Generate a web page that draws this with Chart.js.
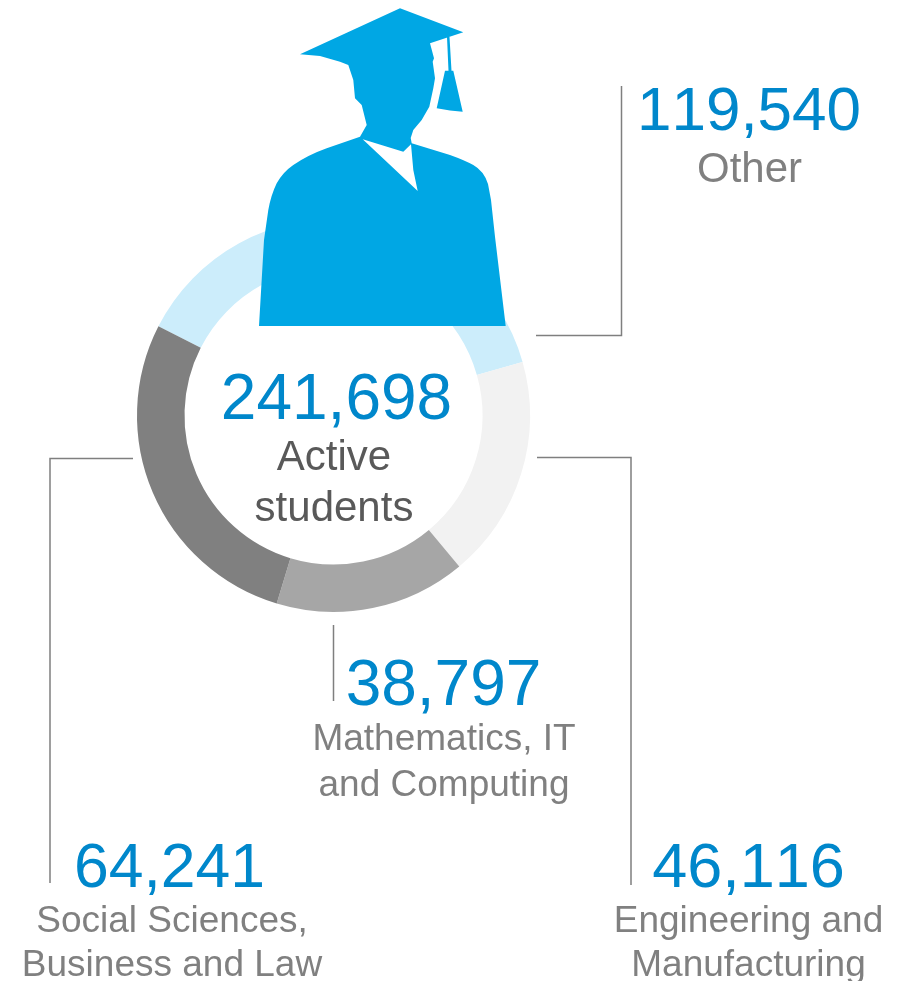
<!DOCTYPE html>
<html>
<head>
<meta charset="utf-8">
<title>Active students</title>
<script src="https://cdn.jsdelivr.net/npm/chart.js"></script>
<style>
  html, body { margin: 0; padding: 0; background: #fff; }
  canvas { display: block; }
</style>
</head>
<body>
<canvas id="studentsChart" width="910" height="981"></canvas>
<script>
// Data
const categories = ['Other', 'Engineering and Manufacturing', 'Mathematics, IT and Computing', 'Social Sciences, Business and Law'];
const counts = ['119,540', '46,116', '38,797', '64,241'];
// the ring in the picture is not in proportion to the counts, so these are the sweeps as drawn (degrees)
const ringShares = [137.2, 66, 56.6, 100.2];
const totalCount = '241,698';
const totalLabel = ['Active', 'students'];
const labelLines = [['Other'], ['Engineering and', 'Manufacturing'], ['Mathematics, IT', 'and Computing'], ['Social Sciences,', 'Business and Law']];

const sliceColors = ['#ccedfb', '#f2f2f2', '#a6a6a6', '#808080'];
const BLUE = '#0087cb';
const GREY = '#808080';
const FONT = '"Liberation Sans", Arial, sans-serif';

// where each callout sits: centre x of number and label, baseline of the number, baselines of the label lines
const callouts = [
  { numX: 749, textX: 749.5, numY: 130, numSize: 62, lineY: [182] },
  { numX: 748.5, textX: 748.5, numY: 887, numSize: 63, lineY: [932, 976] },
  { numX: 443.5, textX: 444, numY: 705, numSize: 64, lineY: [750, 796] },
  { numX: 169.5, textX: 172, numY: 887, numSize: 62.5, lineY: [932, 976] }
];
const leaders = [
  [[536, 335.5], [621.5, 335.5], [621.5, 86]],
  [[537, 457.5], [631, 457.5], [631, 885]],
  [[333.5, 625], [333.5, 701]],
  [[133, 458.5], [50, 458.5], [50, 883]]
];

// Graduate silhouette
function drawGraduate(ctx) {
  ctx.save();
  ctx.fillStyle = '#00a7e4';
  ctx.fill(new Path2D('M300 54.3 L400 8.3 L463.3 32.3 L430 43.3 L434 58.3 L432.7 61.7 L435 78.3 L433.3 88.3 L429.3 106.7 L421.7 120 L413.3 130 L410.7 138 L411.7 143.3 ' +
    'L450 155 Q464 160 473.3 165 Q484 171 488 184 L491 200 L495 236.7 L505.7 326 L259 326 L264 240 L268.3 210 Q271 195 276.7 183.3 Q283 172 293.3 165 ' +
    'Q308 155 326.7 148.3 L360 136.7 L366.7 125 L361.7 105 L355 98.3 L353.3 80 L348.3 65 L340 61.7 L320 56 Z'));
  // white V of the collar
  ctx.fillStyle = '#fff';
  ctx.fill(new Path2D('M362.7 139.3 L403.3 151.7 L411 144.3 L413.3 170 L417.7 191 Z'));
  // tassel
  ctx.fillStyle = '#00a7e4';
  ctx.fill(new Path2D('M447 37 L449.5 37 L451.5 70.7 L453.3 70.7 L462.7 111.7 L450 110.5 L436.7 108.3 L445 70.7 L448.5 70.7 Z'));
  ctx.restore();
}

// Leader lines, texts and silhouette go on top of the ring
const overlayPlugin = {
  id: 'overlay',
  afterDraw(chart) {
    const ctx = chart.ctx;
    ctx.save();
    ctx.strokeStyle = '#7f7f7f';
    ctx.lineWidth = 1.5;
    leaders.forEach(points => {
      ctx.beginPath();
      points.forEach((p, i) => i ? ctx.lineTo(p[0], p[1]) : ctx.moveTo(p[0], p[1]));
      ctx.stroke();
    });

    drawGraduate(ctx);

    ctx.textAlign = 'center';
    ctx.textBaseline = 'alphabetic';
    ctx.fontKerning = 'none';
    callouts.forEach((c, i) => {
      ctx.fillStyle = BLUE;
      ctx.font = c.numSize + 'px ' + FONT;
      ctx.fillText(counts[i], c.numX, c.numY);
      ctx.fillStyle = GREY;
      ctx.font = (i === 0 ? 42 : 37) + 'px ' + FONT;
      labelLines[i].forEach((line, j) => ctx.fillText(line, c.textX, c.lineY[j]));
    });

    // centre of the ring
    ctx.fillStyle = BLUE;
    ctx.font = '64px ' + FONT;
    ctx.fillText(totalCount, 336.5, 419);
    ctx.fillStyle = '#595959';
    ctx.font = '42px ' + FONT;
    ctx.fillText(totalLabel[0], 334, 470);
    ctx.fillText(totalLabel[1], 334, 521);
    ctx.restore();
  }
};

new Chart(document.getElementById('studentsChart'), {
  type: 'doughnut',
  data: {
    labels: categories,
    datasets: [{
      data: ringShares,
      backgroundColor: sliceColors,
      borderWidth: 0
    }]
  },
  options: {
    responsive: false,
    animation: false,
    rotation: 297,
    cutout: 149,
    layout: { padding: { left: 137, right: 380, top: 219, bottom: 369 } },
    plugins: {
      legend: { display: false },
      tooltip: { enabled: false }
    }
  },
  plugins: [overlayPlugin]
});
</script>
</body>
</html>
